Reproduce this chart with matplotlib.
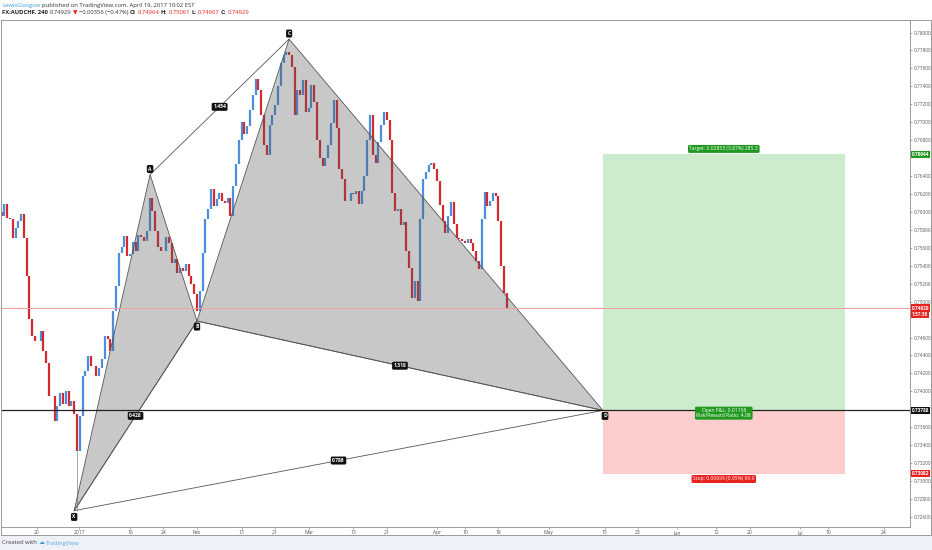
import numpy as np
import matplotlib.pyplot as plt
from matplotlib.patches import Rectangle, Polygon

plt.rcParams['font.family'] = ['Open Sans', 'DejaVu Sans']

# AUDCHF closes, half-day steps, x = trading days from Jan 2 2017
close = [
    0.75959, 0.76093, 0.75936, 0.75925, 0.75712, 0.75824, 0.75903, 0.75981, 0.75712, 0.75287,
    0.74806, 0.74616, 0.74560, 0.74560, 0.74672, 0.74448, 0.74314, 0.73945, 0.73945, 0.73665,
    0.73833, 0.73979, 0.73855, 0.74001, 0.73833, 0.73889, 0.73744, 0.73330, 0.73721, 0.74169,
    0.74225, 0.74393, 0.74281, 0.74281, 0.74169, 0.74258, 0.74359, 0.74616, 0.74583, 0.74448,
    0.74896, 0.75176, 0.75545, 0.75612, 0.75735, 0.75511, 0.75533, 0.75668, 0.75567, 0.75746,
    0.75724, 0.75679, 0.75791, 0.76160, 0.76014, 0.75791, 0.75612, 0.75567, 0.75567, 0.75724,
    0.75656, 0.75433, 0.75477, 0.75321, 0.75377, 0.75343, 0.75421, 0.75287, 0.75198, 0.75086,
    0.74896, 0.75120, 0.75545, 0.75925, 0.76037, 0.76261, 0.76070, 0.76149, 0.76216, 0.76126,
    0.76104, 0.76160, 0.75959, 0.76294, 0.76540, 0.76797, 0.76999, 0.76865, 0.76954, 0.77133,
    0.77301, 0.77480, 0.77357, 0.77077, 0.76742, 0.76630, 0.76965, 0.77077, 0.77189, 0.77401,
    0.77659, 0.77748, 0.77782, 0.77748, 0.77614, 0.77077, 0.77357, 0.77301, 0.77469, 0.77111,
    0.77155, 0.77413, 0.77222, 0.76797, 0.76607, 0.76507, 0.76607, 0.76742, 0.76988, 0.77245,
    0.76932, 0.76484, 0.76372, 0.76126, 0.76126, 0.76216, 0.76205, 0.76238, 0.76093, 0.76238,
    0.76406, 0.76797, 0.77077, 0.76630, 0.76551, 0.76775, 0.76965, 0.77111, 0.77021, 0.76797,
    0.76216, 0.76014, 0.76037, 0.75858, 0.75891, 0.75567, 0.75377, 0.75041, 0.75231, 0.75008,
    0.75925, 0.76372, 0.76451, 0.76529, 0.76551, 0.76484, 0.76350, 0.76082, 0.75903, 0.75768,
    0.75959, 0.76115, 0.75869, 0.75712, 0.75701, 0.75679, 0.75656, 0.75701, 0.75656, 0.75567,
    0.75455, 0.75365, 0.75925, 0.76227, 0.76070, 0.76126, 0.76216, 0.76182, 0.75903, 0.75399,
    0.75097, 0.74929,
]
first_day = -13.0
day_step = 0.5

# XABCD pattern points
pt_names = ['X', 'A', 'B', 'C', 'D']
pt_day = [0.0, 13.6, 22.0, 38.5, 94.7]
pt_price = [0.72670, 0.76417, 0.74784, 0.77927, 0.73788]
ratio_pairs = [(0, 2), (1, 3), (2, 4), (0, 4)]
ratio_text = ['0.428', '1.454', '1.318', '0.786']

# long position tool
entry = 0.73788
target = 0.76644
stop = 0.73082
last = 0.74929
tool_end = 138.0

tick_days = [-6.7, 0.9, 10, 16, 22, 30, 36, 42, 50, 56, 65, 70, 76, 85, 95, 101, 108, 115, 121, 130, 135, 145]
tick_labels = ['20', '2017', '16', '24', 'Feb', '13', '21', 'Mar', '13', '21', 'Apr', '10', '18',
               'May', '15', '23', 'Jun', '12', '20', 'Jul', '10', '24']

UP = '#4a8fdc'
DOWN = '#d42a2f'
GREEN = '#1f9a1f'
RED = '#e8221f'

W, H = 932, 550
fig = plt.figure(figsize=(W / 100, H / 100), dpi=100)
fig.patch.set_facecolor('white')
ax = fig.add_axes([1 / W, 23 / H, 909 / W, 507 / H])

close = np.array(close)
days = first_day + day_step * np.arange(len(close))
opens = np.concatenate([[0.76000], close[:-1]])
cols = [UP if c >= o else DOWN for o, c in zip(opens, close)]
ax.vlines(days, np.minimum(opens, close), np.maximum(opens, close), colors=cols, lw=1.6, zorder=2)
# long wick down to the X low
ix = int(np.argmin(close))
ax.vlines(days[ix], pt_price[0], close[ix], colors='#999999', lw=0.6, zorder=1.9)

# pattern triangles
for tri in [(0, 1, 2), (2, 3, 4)]:
    xy = [(pt_day[i], pt_price[i]) for i in tri]
    ax.add_patch(Polygon(xy, closed=True, fc='#555555', alpha=0.32, ec='none', zorder=3))
    ax.add_patch(Polygon(xy, closed=True, fill=False, ec='#555555', lw=0.6, zorder=4))
for (i, j), txt in zip(ratio_pairs, ratio_text):
    ax.plot([pt_day[i], pt_day[j]], [pt_price[i], pt_price[j]], color='#555555', lw=0.6, zorder=4)
    ax.text((pt_day[i] + pt_day[j]) / 2, (pt_price[i] + pt_price[j]) / 2, txt, color='white',
            fontsize=3.6, weight='bold', ha='center', va='center', zorder=8,
            bbox=dict(boxstyle='round,pad=0.3', fc='#111111', ec='none'))

offsets = {'X': (0, -4.5), 'A': (0, 4), 'B': (0, -4), 'C': (0, 4), 'D': (1.5, -4)}
for name, d, p in zip(pt_names, pt_day, pt_price):
    ax.annotate(name, (d, p), xytext=offsets[name], textcoords='offset points', color='white',
                fontsize=3.6, weight='bold', ha='center', va='center', zorder=8,
                bbox=dict(boxstyle='round,pad=0.3', fc='#111111', ec='none'))

# position tool
ax.add_patch(Rectangle((pt_day[4], entry), tool_end - pt_day[4], target - entry,
                       fc='#cdebcd', ec='none', zorder=1))
ax.add_patch(Rectangle((pt_day[4], stop), tool_end - pt_day[4], entry - stop,
                       fc='#fdcccc', ec='none', zorder=1))
mid = (pt_day[4] + tool_end) / 2
ax.annotate('Target: 0.02853 (3.87%) 285.3', (mid, target), xytext=(0, 2), textcoords='offset points',
            color='white', fontsize=3.6, ha='center', va='bottom', zorder=8,
            bbox=dict(boxstyle='round,pad=0.3', fc=GREEN, ec='none'))
ax.annotate('Open P&L: 0.01158\nRisk/Reward Ratio: 4.08', (mid, entry), xytext=(0, -2),
            textcoords='offset points', color='white', fontsize=3.6, ha='center', va='center',
            linespacing=1.0, zorder=8, bbox=dict(boxstyle='round,pad=0.3', fc=GREEN, ec='none'))
ax.annotate('Stop: 0.00699 (0.95%) 69.9', (mid, stop), xytext=(0, -2), textcoords='offset points',
            color='white', fontsize=3.6, ha='center', va='top', zorder=8,
            bbox=dict(boxstyle='round,pad=0.3', fc=RED, ec='none'))

ax.axhline(entry, color='#222222', lw=0.9, zorder=5)
ax.axhline(last, color='#f0a0a0', lw=0.7, zorder=5)

ax.set_xlim(-13.1, 149.7)
ax.set_ylim(0.72488, 0.78140)

# price ticks, leaving out the ones covered by the coloured labels
yt = [v for v in np.arange(0.726, 0.7801, 0.002)
      if min(abs(v - target), abs(v - entry), abs(v - last + 0.0008)) > 0.0005]
ax.yaxis.tick_right()
ax.set_yticks(yt)
ax.yaxis.set_major_formatter(plt.FormatStrFormatter('%.5f'))
ax.set_xticks(tick_days)
ax.set_xticklabels(tick_labels)
ax.tick_params(axis='y', labelsize=3.4, labelcolor='#555555', length=1.5, width=0.5, color='#888888', pad=1)
ax.tick_params(axis='x', labelsize=3.6, labelcolor='#555555', length=1.5, width=0.5, color='#888888', pad=1)
for s in ax.spines.values():
    s.set_color('#9a9a9a')
    s.set_linewidth(0.7)

# coloured price labels on the right axis
def axis_label(val, txt, fc, dy=0):
    ax.annotate(txt, (1, val), xycoords=('axes fraction', 'data'), xytext=(1.3, dy),
                textcoords='offset points', color='white', fontsize=3.4, weight='bold',
                ha='left', va='center', zorder=9, annotation_clip=False,
                bbox=dict(boxstyle='square,pad=0.25', fc=fc, ec='none'))

axis_label(target, f'{target:.5f}', GREEN)
axis_label(last, f'{last:.5f}', RED)
axis_label(last, '1:57:36', RED, dy=-4.6)
axis_label(entry, f'{entry:.5f}', '#111111')
axis_label(stop, f'{stop:.5f}', RED)

# outer frame and footer strip
fig.add_artist(Rectangle((0, 0), 1, 15 / H, transform=fig.transFigure, fc='#eef1f7', ec='none', zorder=0))
fig.add_artist(Rectangle((0.5 / W, 15 / H), 930 / W, 515 / H, transform=fig.transFigure,
                         fill=False, ec='#9a9a9a', lw=0.7))

r = fig.canvas.get_renderer()

def put_line(pieces, x, y):
    for txt, col, bold in pieces:
        t = fig.text(x, y, txt, color=col, fontsize=4.2, weight='bold' if bold else 'normal',
                     ha='left', va='center')
        x += (t.get_window_extent(renderer=r).width + 1.5) / W

put_line([('LewisGlasgow', '#3d9ad8', False),
          ('published on TradingView.com, April 19, 2017 10:02 EST', '#333333', False)], 2 / W, 1 - 5.5 / H)
put_line([('FX:AUDCHF, 240', '#222222', True), ('0.74929', '#333333', False), ('\u25bc', RED, False),
          ('\u22120.00356 (\u22120.47%)', '#333333', False), ('O:', '#222222', True), ('0.74964', RED, False),
          ('H:', '#222222', True), ('0.75061', RED, False), ('L:', '#222222', True),
          ('0.74907', RED, False), ('C:', '#222222', True), ('0.74929', RED, False)], 2 / W, 1 - 12.5 / H)
put_line([('Created with', '#444444', False), ('\u2601', '#3d9ad8', False),
          ('TradingView', '#5aa9de', False)], 2 / W, 7 / H)

fig.savefig('out.png', dpi=100)
